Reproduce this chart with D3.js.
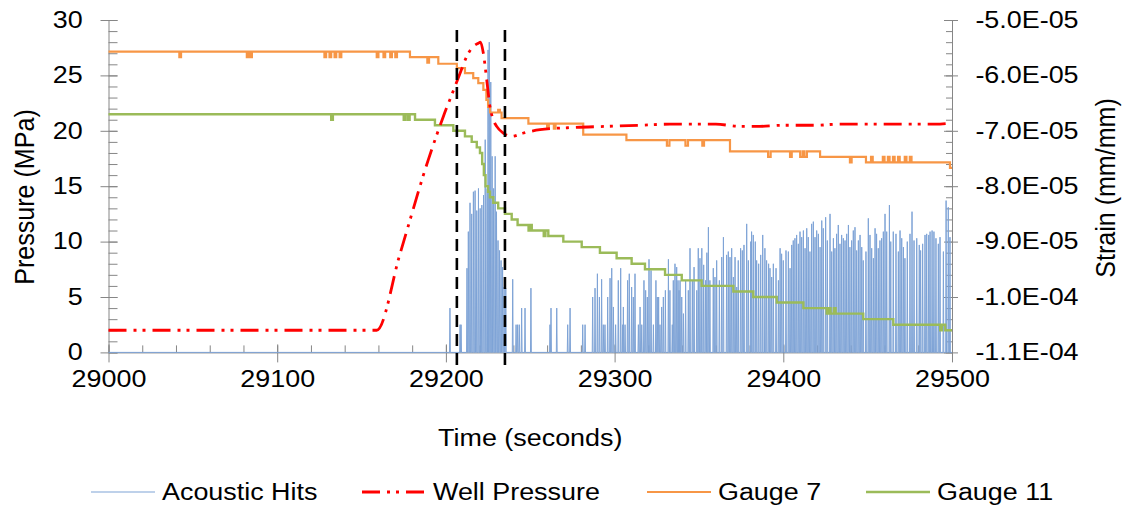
<!DOCTYPE html>
<html><head><meta charset="utf-8">
<script src="https://cdn.jsdelivr.net/npm/d3@7"></script>
<style>body{margin:0;background:#fff}svg{display:block}</style>
</head><body>
<svg id="c" width="1135" height="508"></svg>
<script>
// ---------- DATA ----------
const timeTicks = [29000, 29100, 29200, 29300, 29400, 29500];
const pressureTicks = [0, 5, 10, 15, 20, 25, 30];
const strainTicks = [-1.1e-4, -1.0e-4, -9.0e-5, -8.0e-5, -7.0e-5, -6.0e-5, -5.0e-5];
const strainTickLabels = ["-1.1E-04", "-1.0E-04", "-9.0E-05", "-8.0E-05", "-7.0E-05", "-6.0E-05", "-5.0E-05"];
const seriesNames = ["Acoustic Hits", "Well Pressure", "Gauge 7", "Gauge 11"];
const markerTimes = [29206.5, 29235];

const wellTime = [29000, 29159, 29172.8, 29189.6, 29198.5, 29205.4, 29208.4, 29213.3, 29216.2, 29219.2, 29220.5, 29222.2, 29224.2, 29226.1, 29228.1, 29230.1, 29234, 29239, 29245.9, 29255.8, 29275.5, 29295.3, 29315, 29332.8, 29360, 29374, 29386, 29400, 29420, 29432, 29460, 29490, 29500];
const wellPressure = [2.0, 2.0, 8.9, 17.4, 21.3, 24.0, 25.2, 27.0, 27.6, 27.9, 28.0, 27.0, 24.6, 22.2, 21.0, 20.4, 19.8, 19.5, 19.8, 20.1, 20.3, 20.4, 20.5, 20.6, 20.6, 20.4, 20.4, 20.5, 20.5, 20.6, 20.6, 20.6, 20.7];

const gauge7Time = [29000, 29042, 29043, 29082, 29083, 29084, 29085, 29128, 29129, 29131, 29132, 29134, 29135, 29137, 29138, 29159, 29160, 29163, 29164, 29167, 29168, 29170, 29171, 29178.7, 29189, 29190, 29195.5, 29206.5, 29211.3, 29216.2, 29219.2, 29222.2, 29224, 29225, 29226.2, 29231, 29232, 29233, 29248.9, 29260, 29261, 29264, 29265, 29281.4, 29307, 29331, 29332.5, 29342, 29343.5, 29352, 29353, 29368.4, 29391, 29392.5, 29404, 29405, 29410, 29411.5, 29412.5, 29414, 29421.8, 29439.5, 29440.5, 29449, 29452, 29453, 29459, 29460, 29462, 29463, 29465, 29466, 29468, 29469, 29472, 29473, 29475, 29476, 29498.8];
const gauge7Strain = [-5.57e-5, -5.67e-5, -5.57e-5, -5.67e-5, -5.57e-5, -5.67e-5, -5.57e-5, -5.67e-5, -5.57e-5, -5.67e-5, -5.57e-5, -5.67e-5, -5.57e-5, -5.67e-5, -5.57e-5, -5.67e-5, -5.57e-5, -5.67e-5, -5.57e-5, -5.67e-5, -5.57e-5, -5.67e-5, -5.57e-5, -5.67e-5, -5.77e-5, -5.67e-5, -5.79e-5, -5.87e-5, -5.96e-5, -6.05e-5, -6.14e-5, -6.26e-5, -6.44e-5, -6.57e-5, -6.67e-5, -6.62e-5, -6.67e-5, -6.77e-5, -6.87e-5, -6.96e-5, -6.87e-5, -6.96e-5, -6.87e-5, -7.07e-5, -7.17e-5, -7.27e-5, -7.17e-5, -7.27e-5, -7.17e-5, -7.27e-5, -7.17e-5, -7.37e-5, -7.47e-5, -7.37e-5, -7.47e-5, -7.37e-5, -7.47e-5, -7.37e-5, -7.47e-5, -7.37e-5, -7.47e-5, -7.57e-5, -7.47e-5, -7.57e-5, -7.47e-5, -7.57e-5, -7.47e-5, -7.57e-5, -7.47e-5, -7.57e-5, -7.47e-5, -7.57e-5, -7.47e-5, -7.57e-5, -7.47e-5, -7.57e-5, -7.47e-5, -7.57e-5, -7.67e-5];

const gauge11Time = [29000, 29132, 29133, 29175, 29176, 29177.5, 29178.5, 29181.7, 29193.5, 29204.4, 29211.3, 29215.3, 29218.3, 29220.2, 29221.5, 29222.5, 29223.5, 29225, 29226.1, 29228.1, 29231, 29235, 29239, 29242.5, 29249, 29250, 29250.9, 29258, 29259, 29260.7, 29269.6, 29280.5, 29291.3, 29301.2, 29310.1, 29318, 29329.9, 29339.8, 29351.6, 29370.4, 29382.2, 29396.1, 29411.9, 29425.7, 29427, 29428, 29430, 29431, 29447.4, 29465.2, 29493, 29494, 29496];
const gauge11Strain = [-6.70e-5, -6.80e-5, -6.70e-5, -6.80e-5, -6.70e-5, -6.80e-5, -6.70e-5, -6.80e-5, -6.90e-5, -7.00e-5, -7.10e-5, -7.20e-5, -7.30e-5, -7.40e-5, -7.60e-5, -7.80e-5, -8.00e-5, -8.10e-5, -8.20e-5, -8.30e-5, -8.40e-5, -8.50e-5, -8.60e-5, -8.70e-5, -8.80e-5, -8.70e-5, -8.80e-5, -8.90e-5, -8.80e-5, -8.90e-5, -9.00e-5, -9.10e-5, -9.20e-5, -9.30e-5, -9.40e-5, -9.50e-5, -9.60e-5, -9.70e-5, -9.80e-5, -9.90e-5, -10.00e-5, -10.10e-5, -10.20e-5, -10.30e-5, -10.20e-5, -10.30e-5, -10.20e-5, -10.30e-5, -10.40e-5, -10.50e-5, -10.60e-5, -10.50e-5, -10.60e-5];

const hitTime = [29202.4, 29208.4, 29209.0, 29212.5, 29213.3, 29214.3, 29215.3, 29216.3, 29217.3, 29218.3, 29219.3, 29220.3, 29221.3, 29222.3, 29223.3, 29224.4, 29225.0, 29225.7, 29226.6, 29227.4, 29228.3, 29229.2, 29230.0, 29230.9, 29231.8, 29232.7, 29233.6, 29234.5, 29235.5,
 29239.6, 29241.6, 29242.5, 29243.5, 29244.9, 29246.9, 29250.4, 29261.7, 29262.3, 29265.7, 29272.2, 29273.6, 29281.1, 29282.5, 29287.0, 29288.4, 29289.8, 29291.0, 29292.3, 29293.3, 29294.3, 29295.9, 29297.3, 29298.3, 29299.3, 29300.6, 29302.2, 29303.6, 29304.8, 29305.2, 29306.2, 29307.7, 29308.7, 29310.1, 29311.1, 29312.1, 29314.1, 29315.1, 29316.1, 29317.4, 29318.4, 29319.4, 29320.4, 29321.6, 29323.0, 29324.5, 29325.3, 29326.1, 29326.9, 29327.9, 29328.9, 29330.1, 29331.9, 29332.8, 29334.2, 29334.8, 29335.8, 29336.8, 29337.6, 29338.2, 29338.8, 29339.8, 29340.8, 29342.1, 29343.7, 29344.7, 29346.1, 29347.1, 29348.7,
 29349.6, 29350.6, 29351.7, 29352.8, 29353.9, 29354.7, 29355.6, 29356.5, 29358.5, 29359.5, 29360.5, 29362.1, 29363.5, 29364.5, 29366.4, 29367.4, 29368.4, 29369.4, 29370.4, 29371.4, 29372.4, 29373.3, 29374.7, 29375.7, 29376.7, 29378.3, 29379.3, 29380.7, 29381.2, 29382.2, 29383.4, 29384.2, 29385.4, 29386.6, 29387.8, 29389.1, 29390.1, 29391.3, 29392.1, 29393.1, 29394.1, 29395.7, 29397.1, 29398.1, 29399.0, 29400.0, 29401.6, 29403.0, 29404.0, 29405.0, 29405.9, 29406.9, 29407.9, 29408.9, 29409.9, 29410.9, 29411.9, 29412.9, 29413.9, 29414.8, 29415.8, 29416.8, 29417.8, 29418.8, 29419.8, 29420.8, 29421.8, 29422.8, 29423.7, 29425.1, 29426.1, 29427.7, 29428.7, 29429.7, 29430.6, 29431.6, 29432.6, 29433.6, 29434.6, 29435.6, 29436.6, 29437.6, 29438.6, 29439.5, 29440.5, 29441.5, 29442.5, 29443.5, 29444.5, 29445.5, 29446.5, 29447.4, 29449.0, 29450.4, 29451.4, 29452.4, 29453.4, 29454.4, 29455.3, 29456.3, 29457.3, 29458.3, 29459.3, 29460.3, 29461.3, 29462.9, 29463.7, 29465.2, 29466.8, 29468.2, 29469.2, 29470.2, 29471.2, 29472.1, 29473.5, 29475.1, 29476.3, 29477.5, 29479.1, 29480.6, 29481.4, 29482.6, 29484.0, 29485.0, 29486.2, 29487.0, 29488.2, 29489.3, 29490.5, 29491.9, 29492.9, 29494.9, 29496.5, 29497.8, 29498.8];
const hitCount = [4.0, 2.5, 2.5, 7.6, 10.9, 13.5, 12.5, 14.5, 14.6, 12.8, 14.8, 13.0, 13.3, 14.2, 19.2, 14.8, 27.3, 28.0, 24.4, 17.7, 14.8, 17.7, 12.7, 10.1, 9.2, 8.3, 7.7, 5.9, 5.8,
 6.6, 2.5, 2.5, 2.5, 4.0, 4.0, 5.8, 2.5, 4.0, 4.0, 2.5, 4.0, 2.5, 2.5, 5.0, 5.8, 7.1, 5.0, 6.6, 2.5, 2.5, 5.0, 6.7, 7.6, 4.1, 2.5, 6.5, 7.6, 2.5, 4.1, 2.5, 6.5, 7.1, 5.9, 5.0, 7.1, 2.5, 4.1, 2.5, 6.5, 5.6, 5.0, 8.4, 7.4, 2.5, 6.5, 5.0, 5.0, 2.5, 4.1, 5.0, 5.6, 8.4, 5.6, 2.5, 6.5, 8.0, 7.7, 6.5, 5.6, 6.5, 5.0, 3.5, 6.5, 5.6, 9.4, 6.5, 7.7, 5.6,
 9.4, 8.5, 9.4, 7.9, 6.5, 9.0, 11.3, 6.5, 7.6, 6.8, 8.3, 6.5, 8.6, 10.4, 8.8, 9.1, 8.6, 9.4, 6.8, 8.6, 5.9, 8.3, 9.4, 9.2, 9.7, 11.6, 8.3, 10.0, 10.9, 10.6, 10.0, 8.3, 8.0, 8.8, 10.6, 9.4, 8.3, 8.0, 7.6, 6.8, 8.0, 7.6, 6.5, 9.4, 8.9, 8.3, 9.2, 9.1, 7.6, 9.7, 10.1, 10.3, 10.6, 9.8, 10.9, 10.4, 11.0, 9.4, 11.2, 10.4, 9.1, 11.6, 11.8, 10.4, 11.0, 10.7, 9.5, 11.9, 11.2, 12.2, 10.1, 12.5, 9.1, 10.3, 9.4, 10.7, 11.5, 9.8, 10.6, 10.3, 10.1, 10.7, 11.5, 9.5, 10.1, 11.0, 11.3, 9.2, 10.1, 10.6, 9.5, 8.3, 9.1, 12.1, 10.6, 9.4, 8.5, 11.2, 10.7, 9.4, 10.1, 10.3, 10.9, 12.5, 10.9, 13.3, 10.0, 10.9, 10.7, 9.1, 11.0, 10.3, 9.5, 8.5, 10.0, 10.7, 12.7, 10.1, 10.3, 9.7, 9.2, 9.8, 10.6, 10.7, 10.6, 10.9, 11.0, 10.9, 10.3, 9.8, 10.4, 9.1, 13.7, 13.1, 10.4];

// ---------- CHART ----------
const plot = {left: 108.5, right: 952, top: 20, bottom: 352.4};
const FS = 23, SX = 1.17, SY_TITLE = 1.09;
const FONT = "'Liberation Sans', Arial, sans-serif";
const axisColor = "#868686";
const colors = {hits: "#7ea3d6", well: "#ff0000", g7: "#f79646", g11: "#9bbb59"};

const svg = d3.select("#c");
const x = d3.scaleLinear().domain([29000, 29500]).range([plot.left, plot.right]);
const yP = d3.scaleLinear().domain([0, 30]).range([plot.bottom, plot.top]);
const yS = d3.scaleLinear().domain([-1.1e-4, -5e-5]).range([plot.bottom, plot.top]);

function styleAxis(g) {
  g.selectAll("path.domain").attr("stroke", axisColor).attr("stroke-width", 1);
  g.selectAll(".tick line").attr("stroke", axisColor).attr("stroke-width", 1);
  g.selectAll("text").attr("fill", "#000").attr("font-family", FONT).attr("font-size", FS);
}

// minor ticks (inside)
const minorP = d3.range(0, 30.001, 1);
const minorT = d3.range(29000, 29500.001, 20);
const minorS = d3.range(0, 31).map(i => -1.1e-4 + i * 2e-6);

svg.append("g").attr("transform", `translate(${plot.left},0)`)
  .call(d3.axisLeft(yP).tickValues(minorP).tickSize(-9).tickFormat("")).call(styleAxis)
  .select("path.domain").remove();
svg.append("g").attr("transform", `translate(${plot.right},0)`)
  .call(d3.axisRight(yS).tickValues(minorS).tickSize(-6).tickFormat("")).call(styleAxis)
  .select("path.domain").remove();
svg.append("g").attr("transform", `translate(0,${plot.bottom})`)
  .call(d3.axisBottom(x).tickValues(minorT).tickSize(-7).tickFormat("")).call(styleAxis)
  .select("path.domain").remove();

// major axes
const gl = svg.append("g").attr("transform", `translate(${plot.left},0)`)
  .call(d3.axisLeft(yP).tickValues(pressureTicks).tickSizeInner(8).tickSizeOuter(0).tickPadding(14)).call(styleAxis);
gl.selectAll(".tick line").attr("x2", -8).attr("x1", 9);
gl.selectAll("text").attr("transform", `scale(${SX},1)`);

const gr = svg.append("g").attr("transform", `translate(${plot.right},0)`)
  .call(d3.axisRight(yS).tickValues(strainTicks).tickFormat((d, i) => strainTickLabels[i]).tickSizeInner(8).tickSizeOuter(0).tickPadding(12)).call(styleAxis);
gr.selectAll(".tick line").attr("x1", -8).attr("x2", 6);
gr.selectAll("text").attr("transform", `scale(${SX},1)`);

const gb = svg.append("g").attr("transform", `translate(0,${plot.bottom})`)
  .call(d3.axisBottom(x).tickValues(timeTicks).tickFormat(d3.format("d")).tickSizeInner(8).tickSizeOuter(0).tickPadding(10)).call(styleAxis);
gb.selectAll(".tick line").attr("y1", -8).attr("y2", 10);
gb.selectAll("text").attr("transform", `scale(${SX},1)`);

// acoustic hits (thin spikes from zero)
const hitPts = [[29000, 0]];
hitTime.forEach((t, i) => { hitPts.push([t - 0.25, 0], [t, hitCount[i]], [t + 0.25, 0]); });
hitPts.push([29500, 0]);
svg.append("path").datum(hitPts)
  .attr("d", d3.line().x(d => x(d[0])).y(d => yP(d[1])))
  .attr("fill", "none").attr("stroke", colors.hits).attr("stroke-width", 1);

// gauges
const g7 = gauge7Time.map((t, i) => [t, gauge7Strain[i]]);
g7.push([29500, gauge7Strain[gauge7Strain.length - 1]]);
svg.append("path").datum(g7)
  .attr("d", d3.line().curve(d3.curveStepAfter).x(d => x(d[0])).y(d => yS(d[1])))
  .attr("fill", "none").attr("stroke", colors.g7).attr("stroke-width", 2.2);

const g11 = gauge11Time.map((t, i) => [t, gauge11Strain[i]]);
g11.push([29500, gauge11Strain[gauge11Strain.length - 1]]);
svg.append("path").datum(g11)
  .attr("d", d3.line().curve(d3.curveStepAfter).x(d => x(d[0])).y(d => yS(d[1])))
  .attr("fill", "none").attr("stroke", colors.g11).attr("stroke-width", 2.4);

// well pressure
const wellDash = "18,7,3,6,3,7";
svg.append("path").datum(wellTime.map((t, i) => [t, wellPressure[i]]))
  .attr("d", d3.line().curve(d3.curveMonotoneX).x(d => x(d[0])).y(d => yP(d[1])))
  .attr("fill", "none").attr("stroke", colors.well).attr("stroke-width", 2.8)
  .attr("stroke-dasharray", wellDash);

// dashed markers
svg.selectAll("line.marker").data(markerTimes).enter().append("line")
  .attr("x1", d => x(d)).attr("x2", d => x(d))
  .attr("y1", yP(29.1)).attr("y2", yP(-1.7))
  .attr("stroke", "#000").attr("stroke-width", 2.6).attr("stroke-dasharray", "12,7");

// titles
function addText(tx, ty, str, rot) {
  svg.append("text")
    .attr("transform", `translate(${tx},${ty}) scale(${SX},${rot ? SY_TITLE : 1})` + (rot ? ` rotate(${rot})` : ""))
    .attr("text-anchor", "middle").attr("dominant-baseline", "central")
    .attr("font-family", FONT).attr("font-size", FS).attr("fill", "#000").text(str);
}
addText((plot.left + plot.right) / 2, 438, "Time (seconds)");
addText(25, 197, "Pressure (MPa)", -90);
addText(1106, 188, "Strain (mm/mm)", -90);

// legend
const legendY = 492;
const legendX = [91, 362, 647, 866];
const legendStroke = [colors.hits, colors.well, colors.g7, colors.g11];
const legendDash = [null, wellDash, null, null];
const legendW = [1.1, 2.8, 2.2, 2.4];
seriesNames.forEach((name, i) => {
  const lx = legendX[i];
  svg.append("line").attr("x1", lx).attr("x2", lx + 64).attr("y1", legendY).attr("y2", legendY)
    .attr("stroke", legendStroke[i]).attr("stroke-width", legendW[i])
    .attr("stroke-dasharray", legendDash[i]);
  svg.append("text")
    .attr("transform", `translate(${lx + 71},${legendY}) scale(${SX},1)`)
    .attr("dominant-baseline", "central")
    .attr("font-family", FONT).attr("font-size", FS).attr("fill", "#000").text(name);
});
</script>
</body></html>
